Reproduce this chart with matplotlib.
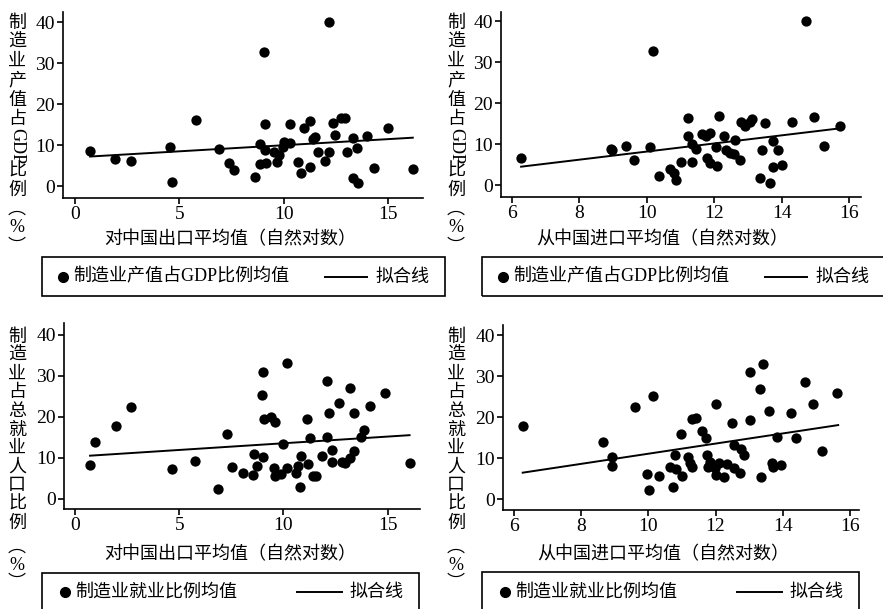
import numpy as np
import matplotlib
matplotlib.use('Agg')
import matplotlib.pyplot as plt
from matplotlib.patches import Rectangle
from matplotlib.lines import Line2D

plt.rcParams['font.family'] = ['Liberation Serif', 'Noto Sans CJK SC']
plt.rcParams['axes.unicode_minus'] = False

# 制造业产值占GDP比例 vs 对中国出口
exp_x1 = [0.72, 1.92, 2.67, 4.53, 4.67, 5.79, 6.9, 7.36, 7.63, 8.64, 8.85, 8.85, 9.05, 9.12,
          9.17, 9.09, 9.52, 9.68, 9.76, 9.97, 10.0, 10.32, 10.29, 10.67, 10.85, 10.96, 11.25,
          11.28, 11.4, 11.52, 11.65, 11.97, 12.2, 12.2, 12.37, 12.45, 12.75, 12.96, 13.04,
          13.33, 13.33, 13.52, 13.55, 14.0, 14.35, 15.0, 16.2]
gdp_y1 = [8.55, 6.5, 6.1, 9.6, 1.06, 16.1, 9.0, 5.5, 3.9, 2.3, 10.3, 5.4, 32.7, 15.1,
          5.5, 8.8, 8.4, 5.9, 7.6, 9.6, 10.8, 10.4, 15.1, 5.8, 3.1, 14.1, 15.8,
          4.7, 11.4, 11.9, 8.4, 6.2, 40.0, 8.4, 15.3, 12.5, 16.5, 16.7, 8.4,
          11.8, 1.9, 9.4, 0.65, 12.2, 4.5, 14.2, 4.1]
fit_x1 = [0.72, 16.2]
fit_y1 = [7.2, 11.8]

# 制造业产值占GDP比例 vs 从中国进口
imp_x2 = [6.27, 8.93, 8.98, 9.39, 9.63, 10.08, 10.18, 10.37, 10.69, 10.79, 10.85, 11.0,
          11.23, 11.23, 11.33, 11.33, 11.46, 11.64, 11.76, 11.78, 11.86, 11.86, 12.05,
          12.07, 12.13, 12.28, 12.35, 12.47, 12.57, 12.6, 12.77, 12.8, 12.92, 13.05, 13.12,
          13.35, 13.42, 13.49, 13.64, 13.74, 13.74, 13.89, 14.0, 14.3, 14.72, 14.96, 15.25,
          15.72]
gdp_y2 = [6.7, 8.8, 8.5, 9.7, 6.2, 9.3, 32.8, 2.3, 4.1, 3.1, 1.3, 5.8,
          16.5, 12.0, 10.2, 5.6, 8.8, 12.6, 12.0, 6.6, 12.8, 5.4, 9.3,
          4.6, 16.9, 12.0, 8.5, 8.0, 7.6, 11.1, 6.1, 15.4, 14.5, 15.5, 16.1,
          1.9, 8.5, 15.1, 0.65, 10.8, 4.5, 8.6, 4.9, 15.5, 40.0, 16.6, 9.6,
          14.5]
fit_x2 = [6.27, 15.72]
fit_y2 = [4.55, 13.9]

# 制造业占总就业人口比例 vs 对中国出口
exp_x3 = [0.72, 0.96, 1.95, 2.67, 4.64, 5.76, 6.88, 7.28, 7.55, 8.05, 8.56, 8.59, 8.75,
          8.99, 9.04, 9.0, 9.08, 9.42, 9.61, 9.55, 9.6, 9.87, 9.97, 10.16, 10.19, 10.59,
          10.69, 10.77, 10.85, 11.12, 11.2, 11.28, 11.4, 11.56, 11.84, 12.08, 12.08, 12.2,
          12.32, 12.32, 12.64, 12.8, 12.96, 13.2, 13.2, 13.4, 13.4, 13.71, 13.84, 14.16,
          14.88, 16.05]
emp_y3 = [8.2, 13.9, 17.8, 22.4, 7.3, 9.3, 2.3, 15.9, 7.8, 6.2, 5.8, 10.9, 8.0,
          25.2, 30.9, 10.2, 19.4, 20.0, 18.6, 7.6, 5.6, 6.0, 13.3, 33.0, 7.6, 6.3,
          8.0, 2.9, 10.5, 19.4, 8.5, 14.9, 5.5, 5.5, 10.5, 28.6, 15.1, 21.0,
          12.0, 8.9, 23.3, 9.0, 8.6, 27.1, 10.0, 21.0, 11.7, 15.0, 16.7, 22.6,
          25.9, 8.6]
fit_x3 = [0.72, 16.05]
fit_y3 = [10.5, 15.5]

# 制造业占总就业人口比例 vs 从中国进口
imp_x4 = [6.28, 8.66, 8.91, 8.91, 9.6, 9.97, 10.03, 10.15, 10.33, 10.64, 10.72, 10.8, 10.82,
          10.97, 11.0, 11.19, 11.24, 11.29, 11.29, 11.42, 11.59, 11.72, 11.74, 11.79, 11.82,
          11.99, 12.02, 12.0, 12.09, 12.24, 12.34, 12.49, 12.54, 12.54, 12.72, 12.77, 12.86,
          13.02, 13.04, 13.32, 13.34, 13.42, 13.59, 13.69, 13.71, 13.82, 13.94, 14.26, 14.4,
          14.66, 14.89, 15.17, 15.63]
emp_y4 = [17.8, 14.0, 10.2, 8.2, 22.4, 6.2, 2.3, 25.2, 5.8, 8.0, 2.9, 10.8, 7.3,
          15.9, 5.7, 10.2, 8.8, 7.8, 19.5, 19.9, 16.7, 14.9, 10.7, 8.0, 9.2,
          7.6, 23.2, 5.9, 8.9, 5.4, 8.6, 18.7, 13.3, 7.6, 6.3, 12.2, 10.7,
          31.0, 19.3, 27.0, 5.4, 33.0, 21.6, 8.8, 7.8, 15.1, 8.4, 21.0, 15.0,
          28.5, 23.2, 11.8, 26.0]
fit_x4 = [6.26, 15.65]
fit_y4 = [6.5, 18.1]

W, H = 883, 609
FS = 13
fig = plt.figure(figsize=(W / 100, H / 100), dpi=100)


def px_axes(l, r, t, b):
    return fig.add_axes([l / W, 1 - b / H, (r - l) / W, (b - t) / H])


def panel(rect, x, y, fx, fy, xlim, ylim, xticks, xlabel, xlab_pos):
    ax = px_axes(*rect)
    ax.scatter(x, y, s=55, color='black', zorder=3, linewidths=0)
    ax.plot(fx, fy, color='black', lw=1.4)
    ax.set_xlim(*xlim)
    ax.set_ylim(*ylim)
    ax.set_xticks(xticks)
    ax.set_yticks([0, 10, 20, 30, 40])
    for s in ['top', 'right']:
        ax.spines[s].set_visible(False)
    for s in ['left', 'bottom']:
        ax.spines[s].set_linewidth(1.2)
    ax.tick_params(direction='out', length=4, width=1.2, labelsize=14, pad=2)
    fig.text(xlab_pos[0] / W, 1 - xlab_pos[1] / H, xlabel, ha='center', va='center', fontsize=FS)
    return ax


def vlabel(x, y, parts, step):
    for p in parts:
        fig.text(x / W, 1 - y / H, p, ha='center', va='center', fontsize=FS)
        y += step


def legend_box(l, r, t, b, mx, label, lx0, lx1, tx, ty):
    fig.add_artist(Rectangle((l / W, 1 - b / H), (r - l) / W, (b - t) / H,
                             transform=fig.transFigure, fill=False, edgecolor='black', lw=1.2))
    fig.add_artist(Line2D([mx / W], [1 - ty / H], transform=fig.transFigure, marker='o',
                          color='black', markersize=7, linestyle='none'))
    fig.text((mx + 10) / W, 1 - ty / H, label, ha='left', va='center', fontsize=FS)
    fig.add_artist(Line2D([lx0 / W, lx1 / W], [1 - ty / H, 1 - ty / H],
                          transform=fig.transFigure, color='black', lw=1.4))
    fig.text(tx / W, 1 - ty / H, '拟合线', ha='left', va='center', fontsize=FS)


panel((63, 423, 12, 198), exp_x1, gdp_y1, fit_x1, fit_y1, (-0.58, 16.69), (-2.93, 42.5),
      [0, 5, 10, 15], '对中国出口平均值（自然对数）', (230, 240))
panel((501, 861, 12, 197), imp_x2, gdp_y2, fit_x2, fit_y2, (5.674, 16.35), (-2.85, 42.3),
      [6, 8, 10, 12, 14, 16], '从中国进口平均值（自然对数）', (662, 240))
panel((64, 420, 323, 509), exp_x3, emp_y3, fit_x3, fit_y3, (-0.53, 16.55), (-2.5, 42.85),
      [0, 5, 10, 15], '对中国出口平均值（自然对数）', (230, 555))
panel((503, 859, 325, 510), imp_x4, emp_y4, fit_x4, fit_y4, (5.673, 16.27), (-2.6, 42.5),
      [6, 8, 10, 12, 14, 16], '从中国进口平均值（自然对数）', (663, 555))

gdp_parts = ['制', '造', '业', '产', '值', '占']
for xx in (17, 456):
    vlabel(xx, 23, gdp_parts, 19.3)
    fig.text(xx / W, 1 - 146 / H, 'GDP', rotation=-90, ha='center', va='center', fontsize=FS)
    vlabel(xx, 171, ['比', '例', '︵', '%', '︶'], 19.0)

emp_parts = ['制', '造', '业', '占', '总', '就', '业', '人', '口', '比', '例']
for xx in (17, 456):
    vlabel(xx, 337, emp_parts, 18.6)
    vlabel(xx, 547, ['︵', '%', '︶'], 18.0)

legend_box(42, 445, 257, 296, 63, '制造业产值占GDP比例均值', 325, 367, 375, 277)
legend_box(482, 890, 257, 296, 503, '制造业产值占GDP比例均值', 765, 807, 815, 277)
legend_box(42, 419, 573, 620, 65, '制造业就业比例均值', 297, 342, 350, 592)
legend_box(482, 859, 572, 620, 505, '制造业就业比例均值', 737, 782, 790, 592)

fig.savefig('out.png', dpi=100)
